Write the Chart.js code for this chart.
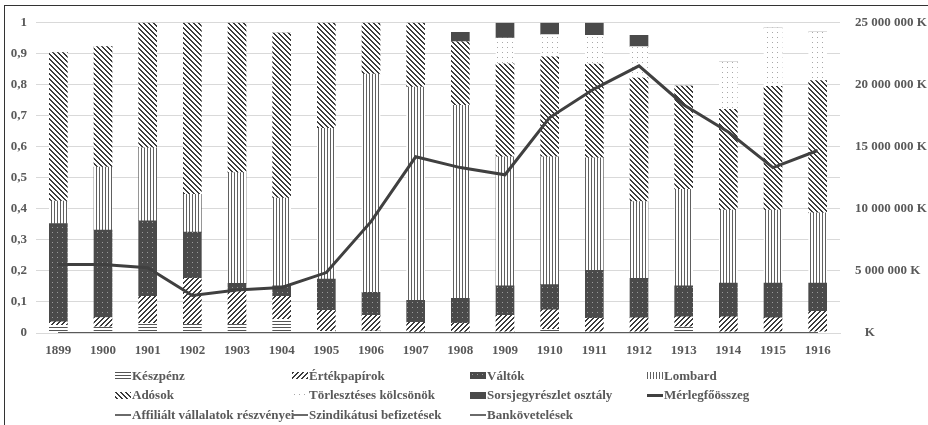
<!DOCTYPE html>
<html>
<head>
<meta charset="utf-8">
<script src="https://cdn.jsdelivr.net/npm/chart.js@4/dist/chart.umd.min.js"></script>
<style>
  html, body { margin: 0; padding: 0; background: #fff; }
  #wrap { position: relative; width: 928px; height: 425px; overflow: hidden; }
  #frame { position: absolute; left: 4px; top: 5px; width: 930px; height: 430px;
           border-left: 1px solid #333; border-top: 1px solid #333; pointer-events: none; box-sizing: border-box; }
  .lg { position: absolute; height: 20px; display: flex; align-items: center; white-space: nowrap;
        font: bold 13px "Liberation Serif", "Times New Roman", serif; color: #595959; }
  .lg canvas { display: block; margin-right: 1px; }
</style>
</head>
<body>
<div id="wrap">
  <canvas id="c" width="928" height="425"></canvas>
  <div id="legend"></div>
  <div id="frame"></div>
</div>
<script>
// ---- data ----
const years = ['1899','1900','1901','1902','1903','1904','1905','1906','1907','1908','1909','1910','1911','1912','1913','1914','1915','1916'];
const keszpenz     = [0.025,0.020,0.031,0.028,0.028,0.044,0.005,0.006,0.003,0.003,0.004,0.012,0.004,0.004,0.020,0.004,0.004,0.004];
const ertekpapirok = [0.011,0.030,0.087,0.148,0.109,0.074,0.068,0.051,0.031,0.028,0.053,0.063,0.043,0.045,0.032,0.048,0.045,0.066];
const valtok       = [0.317,0.282,0.244,0.149,0.023,0.034,0.101,0.074,0.071,0.081,0.095,0.081,0.155,0.127,0.100,0.109,0.112,0.091];
const lombard      = [0.072,0.203,0.235,0.122,0.357,0.283,0.486,0.704,0.688,0.622,0.416,0.412,0.363,0.248,0.311,0.235,0.235,0.226];
const adosok       = [0.479,0.388,0.403,0.553,0.483,0.532,0.340,0.165,0.207,0.205,0.300,0.322,0.302,0.398,0.333,0.325,0.399,0.427];
const torlesztes   = [0,0,0,0,0,0,0,0,0,0,0.083,0.072,0.093,0.101,0,0.154,0.188,0.156];
const sorsjegy     = [0,0,0,0,0,0,0,0,0,0.030,0.049,0.038,0.040,0.037,0,0,0,0];
const merleg       = [5530000,5530000,5260000,3020000,3470000,3670000,4870000,8970000,14200000,13330000,12750000,17360000,19680000,21530000,18400000,16200000,13330000,14710000];
const affilialt    = [0,0,0,0,0,0,0,0,0,0,0,0,0,0,0,0,0,0];
const szindikatusi = [0,0,0,0,0,0,0,0,0,0,0,0,0,0,0,0,0,0];
const bankkovet    = [0,0,0,0,0,0,0,0,0,0,0,0,0,0,0,0,0,0];
const leftTicks = [0,0.1,0.2,0.3,0.4,0.5,0.6,0.7,0.8,0.9,1];
const rightTicks = [0,5000000,10000000,15000000,20000000,25000000];

// ---- patterns ----
function tile(w, h, fn) {
  const c = document.createElement('canvas'); c.width = w; c.height = h;
  const x = c.getContext('2d'); const img = x.createImageData(w, h);
  for (let yy = 0; yy < h; yy++) for (let xx = 0; xx < w; xx++) {
    const col = fn(xx, yy); const i = (yy * w + xx) * 4;
    img.data[i] = col; img.data[i+1] = col; img.data[i+2] = col; img.data[i+3] = 255;
  }
  x.putImageData(img, 0, 0); return c;
}
const tiles = {
  kesz: tile(1, 3, (x, y) => y === 0 ? 0x55 : 0xff),
  ert: tile(5, 5, (x, y) => ((x + y) % 5) < 2 ? 0x3c : 0xff),
  valt: tile(5, 5, (x, y) => (x === 2 && y === 2) ? 0x9a : 0x4a),
  lomb: tile(3, 1, (x, y) => x === 0 ? 0x60 : 0xff),
  ados: tile(5, 5, (x, y) => (((x - y) % 5) + 5) % 5 < 2 ? 0x3c : 0xff),
  torl: tile(5, 5, (x, y) => (x === 2 && y === 2) ? 0xa8 : 0xff),
  sors: tile(1, 1, () => 0x4a)
};
const ctx = document.getElementById('c').getContext('2d');
const P = {}; for (const k in tiles) P[k] = ctx.createPattern(tiles[k], 'repeat');

Chart.defaults.font = { family: '"Liberation Serif", "Times New Roman", serif', size: 13, weight: 'bold' };
Chart.defaults.color = '#595959';

function bar(label, data, bg) {
  return { type: 'bar', label, data, backgroundColor: bg, borderWidth: 0, yAxisID: 'y', order: 1, barThickness: 18 };
}
function line(label, data, color, w, axis) {
  return { type: 'line', label, data, borderColor: color, backgroundColor: color, borderWidth: w,
           pointRadius: 0, tension: 0, fill: false, yAxisID: axis, order: 0 };
}

// target plot area
const AREA = { left: 36, right: 840, top: 18, bottom: 333 };
const fit = { xH: 425 - AREA.bottom, lW: AREA.left, rW: 928 - AREA.right };

const chart = new Chart(ctx, {
  data: {
    labels: years,
    datasets: [
      bar('Készpénz', keszpenz, P.kesz),
      bar('Értékpapírok', ertekpapirok, P.ert),
      bar('Váltók', valtok, P.valt),
      bar('Lombard', lombard, P.lomb),
      bar('Adósok', adosok, P.ados),
      bar('Törlesztéses kölcsönök', torlesztes, P.torl),
      bar('Sorsjegyrészlet osztály', sorsjegy, P.sors),
      line('Mérlegfőösszeg', merleg, '#404040', 3, 'y2'),
      line('Affiliált vállalatok részvényei', affilialt, '#5a5a5a', 2, 'y2'),
      line('Szindikátusi befizetések', szindikatusi, '#5a5a5a', 2, 'y2'),
      line('Bankövetelések', bankkovet, '#5a5a5a', 2, 'y2')
    ]
  },
  options: {
    responsive: false, animation: false, devicePixelRatio: 1,
    layout: { padding: { top: AREA.top, left: 0, right: 0, bottom: 0 } },
    plugins: { legend: { display: false }, tooltip: { enabled: false } },
    scales: {
      x: {
        stacked: true, offset: true,
        grid: { display: false, drawTicks: false },
        border: { display: true, color: '#d9d9d9', width: 1 },
        ticks: { padding: 10, maxRotation: 0, autoSkip: false },
        afterFit: s => { s.height = fit.xH; }
      },
      y: {
        stacked: true, position: 'left', min: 0, max: 1,
        afterBuildTicks: s => { s.ticks = leftTicks.map(v => ({ value: v })); },
        ticks: { padding: 9, callback: v => (v === 0 ? '0' : v === 1 ? '1' : (Math.round(v * 10) / 10).toFixed(1).replace('.', ',')) },
        grid: { color: '#d9d9d9', drawTicks: false, lineWidth: 1 },
        border: { display: false },
        afterFit: s => { s.width = fit.lW; }
      },
      y2: {
        position: 'right', min: 0, max: 25000000,
        afterBuildTicks: s => { s.ticks = rightTicks.map(v => ({ value: v })); },
        ticks: { padding: 15, callback: v => v === 0 ? '   K' : String(v).replace(/\B(?=(\d{3})+(?!\d))/g, ' ') + ' K' },
        grid: { display: false, drawTicks: false },
        border: { display: false },
        afterFit: s => { s.width = fit.rW; }
      }
    }
  }
});

// correct the plot area to the target
for (let i = 0; i < 3; i++) {
  const ca = chart.chartArea;
  const dT = AREA.top - ca.top, dB = ca.bottom - AREA.bottom, dL = ca.left - AREA.left, dR = AREA.right - ca.right;
  if (!dT && !dB && !dL && !dR) break;
  chart.options.layout.padding.top = Math.max(0, chart.options.layout.padding.top + dT);
  fit.xH += dB; fit.lW -= dL; fit.rW += dR;
  chart.update();
}

// ---- legend (HTML, real text) ----
const legendItems = [
  { t: 'Készpénz', k: 'kesz', col: 0, row: 0 },
  { t: 'Értékpapírok', k: 'ert', col: 1, row: 0 },
  { t: 'Váltók', k: 'valt', col: 2, row: 0 },
  { t: 'Lombard', k: 'lomb', col: 3, row: 0 },
  { t: 'Adósok', k: 'ados', col: 0, row: 1 },
  { t: 'Törlesztéses kölcsönök', k: 'torl', col: 1, row: 1 },
  { t: 'Sorsjegyrészlet osztály', k: 'sors', col: 2, row: 1 },
  { t: 'Mérlegfőösszeg', line: '#404040', w: 3, col: 3, row: 1 },
  { t: 'Affiliált vállalatok részvényei', line: '#6a6a6a', w: 2, col: 0, row: 2 },
  { t: 'Szindikátusi befizetések', line: '#6a6a6a', w: 2, col: 1, row: 2 },
  { t: 'Bankövetelések', line: '#6a6a6a', w: 2, col: 2, row: 2 }
];
const colX = [115, 292, 470, 647];
const rowY = [375.5, 395, 415];
const lg = document.getElementById('legend');
legendItems.forEach(it => {
  const d = document.createElement('div'); d.className = 'lg';
  d.style.left = colX[it.col] + 'px'; d.style.top = (rowY[it.row] - 10) + 'px';
  const sw = document.createElement('canvas'); sw.width = 16;
  if (it.line) {
    sw.height = it.w; const c = sw.getContext('2d'); c.fillStyle = it.line; c.fillRect(0, 0, 16, it.w);
  } else {
    sw.height = 7; const c = sw.getContext('2d'); c.fillStyle = c.createPattern(tiles[it.k], 'repeat'); c.fillRect(0, 0, 16, 7);
  }
  const s = document.createElement('span'); s.textContent = it.t;
  d.appendChild(sw); d.appendChild(s); lg.appendChild(d);
});
</script>
</body>
</html>
